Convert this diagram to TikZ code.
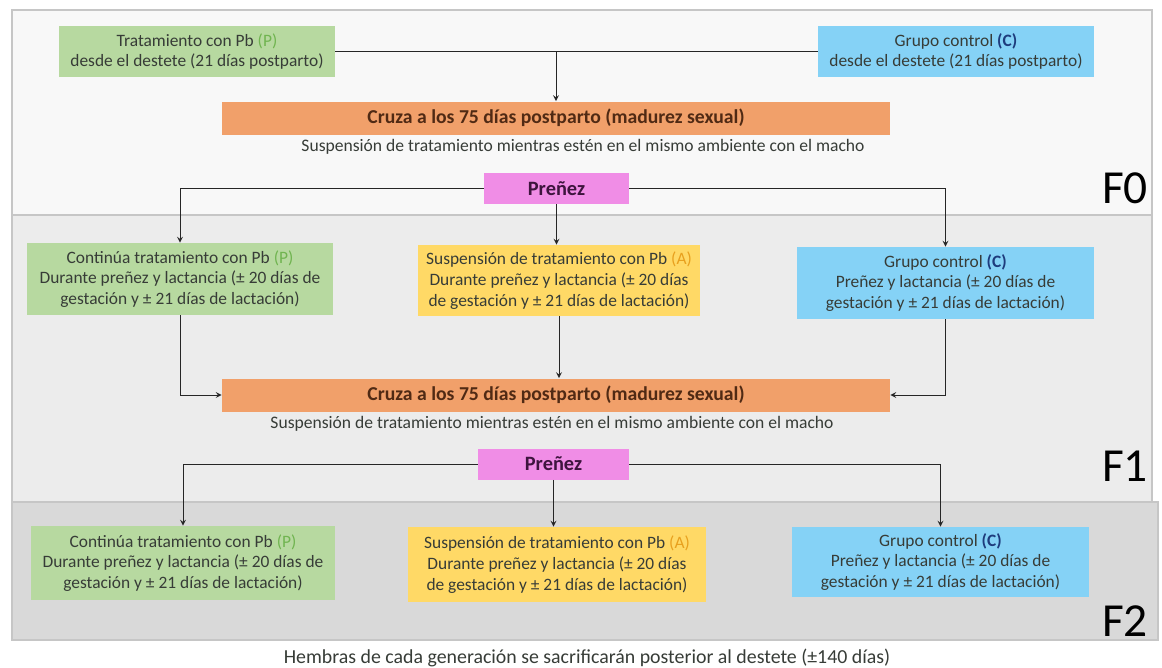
\documentclass[tikz,border=0pt]{standalone}
\usepackage{fontspec}
\setmainfont{Carlito}
\usetikzlibrary{arrows}
\definecolor{verde}{RGB}{183,217,160}
\definecolor{amarillo}{RGB}{255,217,102}
\definecolor{celeste}{RGB}{133,210,246}
\definecolor{naranja}{RGB}{241,160,106}
\definecolor{rosa}{RGB}{240,141,230}
\definecolor{txt}{RGB}{55,60,55}
\definecolor{cafe}{RGB}{80,42,20}
\definecolor{morado}{RGB}{62,20,62}
\definecolor{pverde}{RGB}{112,180,80}
\definecolor{aoro}{RGB}{232,160,30}
\definecolor{cazul}{RGB}{30,60,125}
\definecolor{fondo0}{RGB}{248,248,248}
\definecolor{fondo1}{RGB}{236,236,236}
\definecolor{fondo2}{RGB}{217,217,217}
\newcommand{\Pp}{{\color{pverde}(P)}}
\newcommand{\Aa}{{\color{aoro}(A)}}
\newcommand{\Cc}{{\color{cazul}\bfseries(C)}}

\begin{document}
\begin{tikzpicture}[x=0.02cm, y=-0.02cm,
  caja/.style={inner sep=0pt, align=center, text=txt, font=\fontsize{9.9}{11.8}\selectfont},
  grpP/.style={caja, fill=verde},
  grpA/.style={caja, fill=amarillo},
  grpC/.style={caja, fill=celeste},
  cruza/.style={fill=naranja, inner sep=0pt, minimum width=13.36cm, minimum height=0.66cm, text=cafe, font=\fontsize{11.2}{13}\selectfont\bfseries},
  prenez/.style={fill=rosa, inner sep=0pt, minimum height=0.62cm, text=morado, font=\fontsize{11.6}{13}\selectfont\bfseries},
  nota/.style={inner sep=0pt, text=txt, font=\fontsize{10}{12}\selectfont},
  gen/.style={inner sep=0pt, font=\fontsize{27}{30}\selectfont},
  banda/.style={draw=gray!45, line width=1pt},
  flecha/.style={-stealth, draw=black!85, line width=0.5pt}]
      \useasboundingbox (0,0) rectangle (1162,667);
      % generaciones
      \draw [banda, fill=fondo0] (12,10) rectangle (1152,215);
      \draw [banda, fill=fondo1] (12,215) rectangle (1152,502);
      \draw [banda, fill=fondo2] (12,502) rectangle (1158,640);
      \node [gen] (f0) at (1125,188) {F0};
      \node [gen] (f1) at (1125,466) {F1};
      \node [gen] (f2) at (1125,621) {F2};
      % F0
      \node [grpP, minimum width=5.52cm, minimum height=1.02cm] (p0) at (197,51.5)
        {Tratamiento con Pb \Pp\\desde el destete (21 días postparto)};
      \node [grpC, minimum width=5.52cm, minimum height=1.02cm] (c0) at (956,51.5)
        {Grupo control \Cc\\desde el destete (21 días postparto)};
      \node [cruza] (cruza0) at (556,118) {Cruza a los 75 días postparto (madurez sexual)};
      \node [nota] (sus0) at (583,147) {Suspensión de tratamiento mientras estén en el mismo ambiente con el macho};
      \node [prenez, minimum width=2.9cm] (pre0) at (556.5,188.5) {Preñez};
      \coordinate (j0) at (cruza0.north |- p0.east);
      \draw [flecha, -] (p0.east) -- (c0.west);
      \draw [flecha] (j0) -- (cruza0.north);
      % F1
      \node [grpP, minimum width=6.14cm, minimum height=1.44cm] (p1) at (180,279)
        {Continúa tratamiento con Pb \Pp\\Durante preñez y lactancia (± 20 días de\\gestación y ± 21 días de lactación)};
      \node [grpA, minimum width=5.64cm, minimum height=1.42cm] (a1) at (559,280.5)
        {Suspensión de tratamiento con Pb \Aa\\Durante preñez y lactancia (± 20 días\\de gestación y ± 21 días de lactación)};
      \node [grpC, minimum width=5.94cm, minimum height=1.44cm] (c1) at (945.5,283)
        {Grupo control \Cc\\Preñez y lactancia (± 20 días de\\gestación y ± 21 días de lactación)};
      \draw [flecha] (pre0.west) -| (p1.north);
      \draw [flecha] (pre0.south) -- (pre0.south |- a1.north);
      \draw [flecha] (pre0.east) -| (c1.north);
      \node [cruza] (cruza1) at (556,395) {Cruza a los 75 días postparto (madurez sexual)};
      \node [nota] (sus1) at (552,424) {Suspensión de tratamiento mientras estén en el mismo ambiente con el macho};
      \draw [flecha] (p1.south) |- (cruza1.west);
      \draw [flecha] (a1.south) -- (a1.south |- cruza1.north);
      \draw [flecha] (c1.south) |- (cruza1.east);
      \node [prenez, minimum width=3.02cm] (pre1) at (553.5,464) {Preñez};
      % F2
      \node [grpP, minimum width=6.08cm, minimum height=1.48cm] (p2) at (183,563)
        {Continúa tratamiento con Pb \Pp\\Durante preñez y lactancia (± 20 días de\\gestación y ± 21 días de lactación)};
      \node [grpA, minimum width=5.96cm, minimum height=1.5cm] (a2) at (557,564.5)
        {Suspensión de tratamiento con Pb \Aa\\Durante preñez y lactancia (± 20 días\\de gestación y ± 21 días de lactación)};
      \node [grpC, minimum width=5.94cm, minimum height=1.4cm] (c2) at (940.5,562)
        {Grupo control \Cc\\Preñez y lactancia (± 20 días de\\gestación y ± 21 días de lactación)};
      \draw [flecha] (pre1.west) -| (p2.north);
      \draw [flecha] (pre1.south) -- (pre1.south |- a2.north);
      \draw [flecha] (pre1.east) -| (c2.north);
      \node [nota, font=\fontsize{11.3}{13}\selectfont] (fin) at (587,658)
        {Hembras de cada generación se sacrificarán posterior al destete (±140 días)};
\end{tikzpicture}
\end{document}
